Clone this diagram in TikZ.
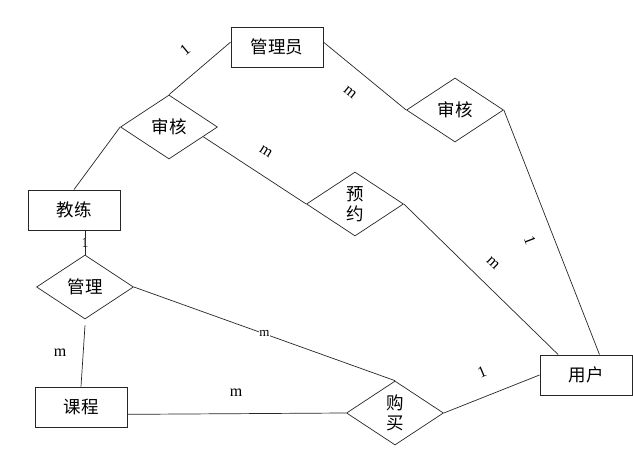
\documentclass[tikz,border=0pt]{standalone}
\usepackage{fontspec}
\setmainfont{Liberation Serif}
\newfontfamily\cjk{Noto Sans CJK SC}
\usetikzlibrary{shapes.geometric,calc}
\begin{document}
\begin{tikzpicture}[x=1pt,y=-1pt,
  entity/.style={draw=black!85, line width=0.9pt, rectangle, minimum width=92pt, minimum height=40pt, inner sep=0pt, font=\cjk\fontsize{17.5}{19}\selectfont},
  rel/.style={draw=black!85, line width=0.7pt, diamond, aspect=1.5, minimum width=97pt, minimum height=64pt, inner sep=0pt, align=center, font=\cjk\fontsize{17.5}{19.5}\selectfont},
  conn/.style={draw=black!85, line width=0.7pt},
  card/.style={font=\fontsize{16}{16}\selectfont, inner sep=0.5pt},
  smallcard/.style={font=\fontsize{14}{14}\selectfont, inner sep=0.3pt, fill=white}]
\fill[white] (0,0) rectangle (633,470);
\useasboundingbox (0,0) rectangle (633,470);
% entities
\node[entity] (gly) at (277,47) {管理员};
\node[entity] (jl) at (74,210) {教练};
\node[entity] (kc) at (81,407) {课程};
\node[entity] (yh) at (586,375) {用户};
% relationships
\node[rel] (sh1) at (169,127) {审核};
\node[rel] (sh2) at (455,110) {审核};
\node[rel] (yy) at (355,204) {预\\约};
\node[rel] (gl) at (85,287) {管理};
\node[rel] (gm) at (395,413) {购\\买};
% connectors
\draw[conn] (gly.174) -- (sh1.north);
\draw[conn] (gly.6) -- (sh2.west);
\draw[conn] (sh2.east) -- ($(yh.north west)!0.645!(yh.north east)$);
\draw[conn] ($(sh1.east)!0.3!(sh1.south)$) -- (yy.west);
\draw[conn] (yy.east) -- ($(yh.north west)!0.2!(yh.north east)$);
\draw[conn] (sh1.west) -- (jl.north);
\draw[conn] (jl.south -| gl.north) -- node[smallcard] (l0) {1} (gl.north);
\draw[conn] ([yshift=-6pt]gl.south) -- (kc.north);
\draw[conn] (gl.east) -- node[card, fill=white, font=\fontsize{13}{13}\selectfont] (l9) {m} (gm.north);
\draw[conn] (kc.-9) -- (gm.west);
\draw[conn] (gm.east) -- (yh.west);
% cardinality labels
\node[card, rotate=40] (l1) at (185,50) {1};
\node[card, rotate=-39] (l2) at (350,92) {m};
\node[card, rotate=-32] (l3) at (266,152) {m};
\node[card, rotate=-69] (l4) at (530,240) {1};
\node[card, rotate=-44] (l5) at (493,263) {m};
\node[card, rotate=23] (l6) at (482,372) {1};
\node[card] (l7) at (60,353) {m};
\node[card] (l8) at (236,393) {m};
\end{tikzpicture}
\end{document}
